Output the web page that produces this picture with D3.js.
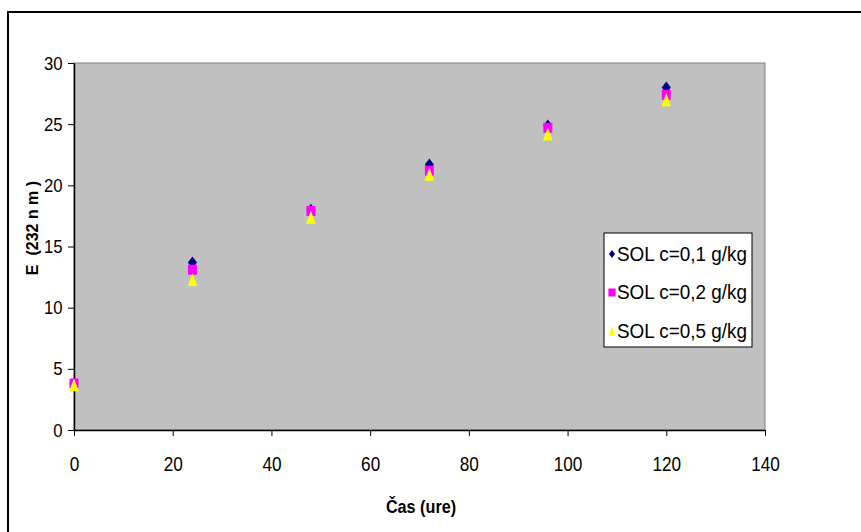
<!DOCTYPE html>
<html>
<head>
<meta charset="utf-8">
<script src="https://cdn.jsdelivr.net/npm/d3@7"></script>
<style>
  body { margin: 0; background: #fff; }
  text { font-family: "Liberation Sans", Arial, sans-serif; }
</style>
</head>
<body>
<div id="chart"></div>
<script>
const hours = [0, 24, 48, 72, 96, 120];
const sol01 = [3.8, 13.7, 18.0, 21.7, 24.9, 28.0];
const sol02 = [3.8, 13.1, 17.9, 21.2, 24.7, 27.4];
const sol05 = [3.7, 12.3, 17.4, 20.9, 24.2, 27.0];
const seriesNames = ["SOL c=0,1 g/kg", "SOL c=0,2 g/kg", "SOL c=0,5 g/kg"];
const seriesColors = ["#000080", "#ff00ff", "#ffff00"];
const xTicks = [0, 20, 40, 60, 80, 100, 120, 140];
const yTicks = [0, 5, 10, 15, 20, 25, 30];

const width = 861, height = 532;
const plot = {left: 74, right: 765, top: 63, bottom: 430};

// marker shapes around 0,0 ; size s = height, widths a bit narrower
const diamond = {draw(ctx, s) { ctx.moveTo(0, -s / 2); ctx.lineTo(s * 0.38, 0); ctx.lineTo(0, s / 2); ctx.lineTo(-s * 0.38, 0); ctx.closePath(); }};
const square = {draw(ctx, s) { ctx.rect(-s * 0.45, -s / 2, s * 0.9, s); }};
const triangle = {draw(ctx, s) { ctx.moveTo(0, -s / 2); ctx.lineTo(s * 0.37, s / 2); ctx.lineTo(-s * 0.37, s / 2); ctx.closePath(); }};
const shapes = [diamond, square, triangle];
const sizes = [12, 10, 13];

const svg = d3.select("#chart")
    .append("svg")
    .attr("width", width)
    .attr("height", height);

// outer frame (top and left edges visible)
svg.append("path")
    .attr("d", `M8,${height} L8,12 L${width},12`)
    .attr("fill", "none")
    .attr("stroke", "#000")
    .attr("stroke-width", 2);

const x = d3.scaleLinear().domain([0, 140]).range([plot.left, plot.right]);
const y = d3.scaleLinear().domain([0, 30]).range([plot.bottom, plot.top]);

svg.append("rect")
    .attr("x", plot.left)
    .attr("y", plot.top)
    .attr("width", plot.right - plot.left)
    .attr("height", plot.bottom - plot.top)
    .attr("fill", "#c0c0c0")
    .attr("stroke", "#808080")
    .attr("stroke-width", 1);

const xAxis = svg.append("g")
    .attr("transform", `translate(0,${plot.bottom})`)
    .call(d3.axisBottom(x).tickValues(xTicks).tickSize(6).tickPadding(21).tickSizeOuter(0));
const yAxis = svg.append("g")
    .attr("transform", `translate(${plot.left},0)`)
    .call(d3.axisLeft(y).tickValues(yTicks).tickSize(6).tickPadding(7).tickSizeOuter(0));

[xAxis, yAxis].forEach(a => {
    a.select(".domain").attr("stroke", "#000").attr("stroke-width", 1.5);
    a.selectAll(".tick line").attr("stroke", "#000");
    a.selectAll(".tick text")
        .attr("fill", "#000")
        .attr("transform", "scale(0.88,1)")
        .style("font-size", "19px");
});
xAxis.selectAll(".tick text").attr("dy", "0.71em").style("font-size", "20px").attr("transform", "scale(0.86,1)");

const series = [sol01, sol02, sol05];
series.forEach((vals, i) => {
    svg.append("g")
        .selectAll("path")
        .data(hours.map((h, j) => ({h: h, v: vals[j]})))
        .join("path")
        .attr("transform", d => `translate(${x(d.h)},${y(d.v)})`)
        .attr("d", d3.symbol().type(shapes[i]).size(sizes[i]))
        .attr("fill", seriesColors[i]);
});

// legend
const legend = svg.append("g").attr("transform", "translate(604,233)");
legend.append("rect")
    .attr("width", 148)
    .attr("height", 114)
    .attr("fill", "#fff")
    .attr("stroke", "#000")
    .attr("stroke-width", 1);
const lsizes = [8, 8, 9];
seriesNames.forEach((name, i) => {
    const cy = 20 + i * 38.5;
    legend.append("path")
        .attr("transform", `translate(8,${cy + 1})`)
        .attr("d", d3.symbol().type(shapes[i]).size(lsizes[i]))
        .attr("fill", seriesColors[i]);
    legend.append("text")
        .attr("transform", `translate(13,${cy}) scale(0.9,1)`)
        .attr("dy", "0.36em")
        .style("font-size", "21px")
        .text(name);
});

// axis titles
svg.append("text")
    .attr("transform", `translate(421,513) scale(0.9,1)`)
    .attr("text-anchor", "middle")
    .style("font-size", "18px")
    .style("font-weight", "bold")
    .text("Čas (ure)");

svg.append("text")
    .attr("transform", "translate(38,228) rotate(-90)")
    .attr("text-anchor", "middle")
    .style("font-size", "16px")
    .style("font-weight", "bold")
    .style("white-space", "pre")
    .attr("xml:space", "preserve")
    .text("E  (232 n m )");
</script>
</body>
</html>
